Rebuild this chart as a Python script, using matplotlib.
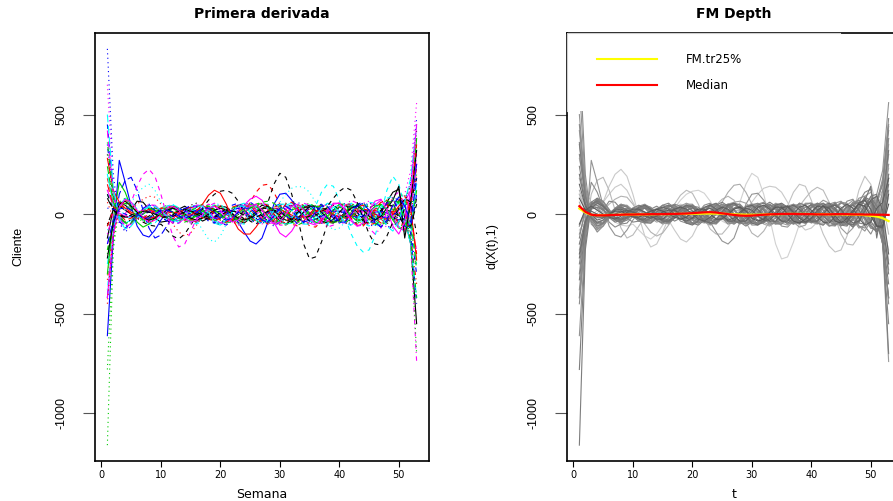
### Primera derivada de las curvas de clientes y profundidad FM
import numpy as np
import matplotlib
matplotlib.use('Agg')
import matplotlib.pyplot as plt
from matplotlib.lines import Line2D
from matplotlib.patches import Rectangle

### Datos: derivada de cada cliente en las semanas 1..53
semana = list(range(1, 54))

c00 = [-120, 30, 60, 45, 20, 65, 60, 25, -20, -40,
       -35, -5, 25, 40, 20, -10, -35, -20, 15, 40,
       35, 5, -30, -45, -20, 20, 45, 35, 0, -35,
       -50, -30, 5, 35, 45, 20, -15, -40, -45, -20,
       10, 35, 45, 25, -10, -30, 10, 60, 110, 125,
       -20, -150, -550]
c01 = [180, 60, -20, -40, -30, -10, 10, 25, 30, 20,
       5, -10, -20, -25, -15, 0, 15, 20, 10, -5,
       -20, -30, -20, 10, 60, 110, 145, 150, 110, 50,
       -10, -50, -60, -40, -10, 15, 30, 25, 10, -5,
       -15, -20, -10, 5, 15, 20, 10, -5, -20, -30,
       -10, 60, 230]
c02 = [-1160, -180, 50, 60, 25, -15, -40, -30, 0, 30,
       45, 30, 0, -30, -45, -20, 15, 40, 40, 15,
       -15, -40, -35, 0, 35, 50, 25, -10, -45, -35,
       0, 30, 45, 30, 0, -30, -45, -20, 20, 50,
       40, 0, -40, -55, -30, 10, 50, 60, 25, -35,
       -80, 0, 200]
c03 = [350, 90, -20, -60, -45, -10, 25, 45, 35, 10,
       -20, -40, -45, -20, 15, 40, 45, 20, -15, -45,
       -55, -30, 10, 45, 60, 40, 0, -40, -60, -40,
       0, 40, 60, 40, 5, -25, -45, -35, 0, 35,
       55, 45, 10, -25, -55, -60, -20, 40, 85, 70,
       0, -80, -300]
c04 = [-250, -60, 40, 80, 65, 25, -20, -50, -45, -10,
       25, 45, 35, 0, -35, -45, -20, 15, 40, 45,
       20, -15, -45, -50, -20, 20, 50, 50, 20, -20,
       -50, -45, 0, 40, 50, 25, -20, -45, -35, 0,
       35, 55, 35, -10, -45, -55, -20, 30, 70, 55,
       -20, -150, -420]
c05 = [120, 40, 5, -10, -15, -5, 5, 15, 10, 0,
       -10, -15, -5, 10, 20, 15, 0, -15, -20, -10,
       5, 20, 30, 45, 75, 90, 70, 20, -40, -95,
       -115, -85, -35, 10, 35, 40, 25, 5, -10, -15,
       -10, 0, 10, 15, 10, 0, -10, -15, -5, 20,
       60, 120, 250]
c06 = [-60, 30, 40, 20, 0, -20, -40, -55, -60, -50,
       -80, -110, -125, -100, -55, -10, 30, 70, 100, 115,
       120, 105, 65, 10, -35, -50, -20, 60, 150, 205,
       185, 100, -20, -150, -225, -215, -140, -50, 20, 50,
       45, 15, -10, -20, -15, 0, 15, 20, 10, -10,
       -30, -60, 80]
c07 = [60, -20, -30, -10, 20, 50, 75, 90, 85, 50,
       0, -50, -90, -110, -95, -55, -10, 25, 40, 35,
       20, 0, -15, -20, -10, 5, 15, 20, 15, 0,
       -15, -25, -20, -5, 10, 20, 15, 0, -15, -20,
       -10, 5, 20, 25, 10, -15, -30, -35, -15, 20,
       70, 150, 380]
c08 = [-200, -40, 30, 55, 40, 10, -15, -25, -15, 10,
       35, 45, 25, -10, -35, -35, -10, 25, 45, 35,
       0, -35, -45, -25, 10, 45, 55, 30, -10, -45,
       -55, -35, 10, 45, 55, 35, 0, -35, -45, -25,
       10, 45, 55, 30, -10, -45, -55, -10, 45, 65,
       20, -60, -250]
c09 = [-420, -90, 100, 170, 185, 120, 20, -70, -120, -105,
       -60, -15, 15, 30, 25, 10, -5, -15, -10, 5,
       15, 20, 10, -5, -15, -15, -5, 10, 20, 15,
       0, -15, -20, -10, 5, 15, 20, 10, -5, -15,
       -15, -5, 10, 20, 15, 0, -15, -20, -5, 15,
       40, 80, 180]
c10 = [200, 50, -20, -45, -30, 0, 25, 35, 20, 0,
       -25, -35, -20, 10, 35, 45, 25, -10, -45, -55,
       -35, 10, 45, 55, 30, 0, -35, -45, -20, 15,
       45, 55, 35, 0, -35, -45, -20, 10, 35, 45,
       25, -10, -35, -35, 0, 35, 45, 20, -20, -60,
       -90, -40, 150]
c11 = [-150, -60, -30, 0, 60, 140, 200, 225, 190, 100,
       -10, -110, -165, -150, -90, -20, 30, 50, 40, 15,
       -10, -25, -20, -5, 10, 20, 15, 0, -15, -20,
       -10, 5, 20, 25, 15, -5, -25, -35, -25, 0,
       25, 35, 20, -5, -30, -40, -20, 15, 45, 50,
       20, -50, -180]
c12 = [300, 80, -10, -40, -30, 0, 25, 35, 20, -10,
       -35, -45, -20, 15, 45, 55, 30, -10, -45, -50,
       -30, 10, 45, 50, 20, -20, -45, -35, 10, 45,
       55, 30, -10, -45, -50, -20, 20, 55, 45, 0,
       -45, -55, -20, 25, 55, 45, 0, -45, -50, 0,
       60, 150, 420]
c13 = [-330, -70, 45, 70, 45, 10, -20, -30, -20, 0,
       25, 35, 25, 0, -25, -35, -20, 10, 35, 45,
       25, -10, -45, -45, -10, 35, 55, 45, 0, -35,
       -45, -20, 10, 35, 35, 10, -25, -45, -35, 10,
       45, 55, 25, -20, -55, -45, 0, 55, 75, 20,
       -60, -120, -350]
c14 = [240, 60, -10, -45, -40, -20, 0, 20, 30, 20,
       0, -25, -35, -20, 5, 35, 50, 40, 10, -25,
       -45, -30, 0, 30, 50, 40, 0, -40, -50, -30,
       10, 40, 50, 30, -10, -40, -50, -20, 20, 50,
       50, 20, -20, -50, -40, 0, 50, 70, 50, 0,
       -60, -80, 120]
c15 = [-610, -120, 270, 160, 40, -60, -105, -115, -80, -30,
       10, 30, 30, 15, 0, -10, -10, 0, 10, 15,
       10, -10, -40, -90, -135, -150, -120, -40, 50, 100,
       105, 70, 20, -15, -30, -25, -10, 5, 15, 15,
       5, -10, -15, -10, 0, 10, 15, 5, -15, -30,
       -20, 40, 250]
c16 = [100, 30, -15, -25, -10, 10, 25, 30, 15, -5,
       -20, -25, -15, 0, 15, 20, 10, -5, -15, -15,
       -5, 10, 15, 10, -5, -20, -25, -15, 0, 10,
       15, 10, 0, 5, 20, 40, 110, 150, 140, 70,
       -20, -100, -160, -190, -180, -110, 0, 120, 190, 150,
       40, -60, -250]
c17 = [650, 150, -50, -80, -50, -10, 30, 50, 40, 10,
       -20, -40, -30, 0, 30, 45, 25, -10, -40, -45,
       -10, 30, 50, 40, 0, -40, -50, -20, 20, 50,
       40, 0, -40, -50, -20, 20, 50, 40, 0, -40,
       -50, -20, 20, 55, 65, 30, -25, -70, -55, 15,
       100, 220, 560]
c18 = [-50, 20, 40, 20, 0, -15, -25, -10, 10, 25,
       25, 10, -10, -25, -25, 0, 25, 35, 25, 0,
       -25, -35, -15, 20, 35, 25, -10, -35, -35, 0,
       35, 45, 25, -10, -35, -35, 0, 35, 45, 20,
       -10, -40, -45, -10, 30, 50, 30, -20, -55, -40,
       30, 60, 180]
c19 = [150, 40, 0, -30, -20, 0, 20, 25, 10, -10,
       -25, -25, 0, 25, 35, 25, 0, -25, -35, -20,
       10, 35, 45, 25, -10, -35, -35, 0, 35, 45,
       25, -10, -35, -35, 0, 35, 45, 25, -10, -35,
       -35, 0, 35, 45, 25, -20, -45, -35, 15, 70,
       90, 20, -200]
c20 = [-300, -20, 160, 110, 30, -40, -65, -50, -20, 10,
       30, 30, 10, -15, -25, -10, 15, 25, 20, 0,
       -25, -35, -20, 10, 35, 40, 20, -10, -35, -35,
       -10, 20, 35, 25, 0, -25, -35, -10, 20, 35,
       25, -10, -35, -25, 10, 40, 50, 20, -30, -70,
       -80, 50, 380]
c21 = [450, 110, -35, -70, -45, 0, 30, 40, 20, -10,
       -35, -35, -10, 25, 45, 35, 0, -35, -45, -20,
       10, 45, 55, 25, -20, -50, -40, 0, 40, 50,
       20, -20, -50, -40, 0, 40, 50, 20, -20, -45,
       -30, 10, 50, 60, 20, -40, -65, -40, 25, 70,
       50, -100, -450]
c22 = [-80, -40, -10, 20, 60, 100, 135, 150, 120, 60,
       10, -20, -30, -20, -10, -30, -80, -125, -140, -110,
       -50, 10, 40, 40, 20, 0, -10, -5, 20, 60,
       100, 130, 140, 135, 110, 60, 0, -50, -80, -70,
       -40, -10, 10, 20, 20, 10, -5, -15, -10, 10,
       40, 100, 300]
c23 = [-100, 0, 50, 45, 20, -10, -30, -30, -10, 20,
       40, 40, 10, -30, -50, -40, 0, 40, 55, 40,
       0, -40, -55, -40, 10, 50, 55, 30, -20, -55,
       -55, -20, 30, 55, 45, 10, -40, -65, -55, -10,
       45, 70, 55, 0, -70, -100, -70, 15, 90, 110,
       50, -150, -740]
c24 = [80, 20, 0, -15, -15, 0, 15, 15, 0, -15,
       -15, 0, 15, 25, 15, 0, -15, -25, -15, 10,
       25, 25, 0, -25, -25, 0, 25, 35, 15, -20,
       -35, -25, 10, 35, 35, 0, -35, -45, -25, 10,
       40, 40, 10, -35, -45, -20, 20, 50, 40, -10,
       -60, -60, 50]
c25 = [280, 120, 60, 30, 10, -5, -15, -20, -15, -5,
       5, 10, 5, -5, -5, 15, 50, 95, 120, 105,
       50, -20, -75, -100, -100, -65, -20, 15, 30, 25,
       10, -5, -15, -15, -5, 10, 20, 15, 0, -15,
       -20, -10, 10, 25, 20, 0, -20, -25, 0, 40,
       70, 30, -230]
c26 = [-180, -30, 35, 45, 20, -10, -30, -20, 10, 30,
       30, 10, -20, -40, -30, 0, 30, 40, 20, -10,
       -35, -45, -25, 5, 30, 50, 60, 65, 55, 30,
       0, -40, -55, -40, -10, 25, 45, 35, 0, -35,
       -45, -20, 25, 50, 35, -10, -45, -45, 10, 65,
       70, 0, -280]
c27 = [830, 200, -40, -90, -60, -15, 30, 50, 40, 10,
       -20, -40, -30, 0, 30, 45, 35, 0, -35, -45,
       -20, 20, 45, 45, 10, -30, -45, -30, 10, 40,
       45, 20, -20, -45, -40, 0, 40, 50, 20, -20,
       -45, -45, -10, 35, 60, 45, -10, -60, -70, -20,
       70, 160, 480]
c28 = [-380, -80, 50, 75, 45, 0, -30, -40, -20, 10,
       40, 50, 30, -10, -40, -50, -20, 20, 50, 50,
       20, -20, -50, -40, 0, 40, 50, 30, -10, -40,
       -50, -20, 20, 50, 40, 0, -40, -50, -20, 30,
       55, 45, 0, -45, -60, -25, 35, 80, 90, 40,
       -40, -150, -420]
c29 = [420, 100, -20, -60, -50, -20, 20, 45, 45, 20,
       -20, -45, -45, -20, 20, 45, 45, 20, -20, -45,
       -45, -20, 20, 45, 45, 20, -20, -45, -45, -10,
       30, 45, 30, -10, -45, -55, -25, 20, 55, 55,
       20, -25, -60, -55, -10, 45, 70, 45, -15, -70,
       -80, 20, 300]
c30 = [-220, -40, 50, 65, 40, 10, -20, -30, -20, 0,
       20, 30, 20, 0, -20, -30, -20, 0, 20, 30,
       20, 0, -20, -30, -20, 10, 30, 40, 20, -10,
       -30, -40, -20, 10, 40, 40, 10, -20, -40, -30,
       0, 30, 40, 20, -10, -30, -10, 30, 70, 140,
       -120, 60, 320]
c31 = [-60, 20, 45, 30, 0, -20, -20, 0, 20, 30,
       20, 0, -20, -30, -10, 20, 40, 30, 0, -30,
       -40, -20, 10, 40, 40, 10, -30, -50, -30, 10,
       50, 60, 30, -20, -60, -65, -35, 10, 50, 55,
       25, -20, -55, -60, -25, 25, 60, 50, 0, -50,
       -50, 60, 350]
c32 = [-780, -150, 60, 80, 40, 0, -30, -40, -20, 10,
       30, 40, 20, -10, -30, -40, -20, 10, 30, 40,
       20, -10, -30, -40, -20, 10, 30, 40, 20, -10,
       -30, -40, -20, 10, 30, 40, 20, -10, -30, -40,
       -20, 10, 40, 50, 20, -30, -55, -40, 30, 90,
       100, -120, -700]
c33 = [30, 25, 15, 0, -10, -10, 0, 10, 20, 10,
       0, -10, -20, -10, 10, 20, 20, 0, -20, -20,
       0, 20, 30, 10, -10, -30, -20, 10, 30, 20,
       -10, -30, -30, 0, 30, 40, 10, -20, -40, -20,
       20, 40, 30, -10, -40, -40, 10, 55, 70, 25,
       -60, -70, 100]
c34 = [500, 130, -25, -75, -60, -20, 20, 40, 40, 20,
       -10, -30, -40, -20, 10, 40, 40, 10, -30, -50,
       -30, 10, 40, 40, 10, -30, -50, -30, 20, 50,
       50, 20, -20, -50, -50, -10, 30, 55, 45, 0,
       -45, -55, -30, 25, 60, 55, 0, -60, -85, -35,
       60, 180, 440]
c35 = [-420, -100, 35, 75, 60, 20, -20, -40, -30, 0,
       30, 40, 20, -20, -40, -30, 0, 30, 40, 20,
       -20, -40, -30, 10, 40, 50, 20, -20, -50, -40,
       0, 40, 50, 20, -20, -50, -40, 10, 50, 55,
       20, -35, -60, -45, 15, 65, 75, 20, -60, -100,
       -40, 120, 450]
c36 = [100, 20, -10, -15, -5, 5, 10, 10, 0, -10,
       -15, -10, 0, 10, 15, 10, -5, -15, -15, -5,
       10, 15, 10, -5, -15, -15, 0, 15, 20, 10,
       -10, -25, -30, -20, -10, -5, 10, 40, 80, 115,
       135, 120, 60, -20, -100, -150, -155, -110, -40, 30,
       80, 60, -100]
c37 = [-450, -110, 25, 70, 50, 15, -20, -40, -30, 0,
       30, 40, 30, 0, -30, -40, -20, 10, 40, 40,
       10, -30, -50, -30, 10, 40, 50, 20, -20, -50,
       -40, 0, 40, 50, 20, -20, -50, -40, 0, 40,
       50, 20, -30, -55, -40, 15, 60, 70, 20, -50,
       -90, -20, 200]
c38 = [360, 90, -10, -50, -45, -10, 20, 30, 20, 0,
       -20, -30, -20, 0, 20, 30, 20, -10, -30, -30,
       0, 30, 40, 20, -20, -40, -30, 10, 40, 40,
       10, -30, -40, -20, 20, 40, 30, -10, -40, -40,
       0, 40, 50, 20, -30, -55, -30, 35, 80, 55,
       -30, -130, -420]
c39 = [-150, -30, 25, 35, 20, 0, -20, -20, 0, 20,
       20, 10, -10, -20, -10, 10, 30, 30, 10, -20,
       -30, -20, 10, 30, 30, 0, -30, -40, -10, 30,
       40, 20, -20, -40, -30, 10, 40, 40, 0, -40,
       -40, 0, 40, 55, 20, -40, -65, -30, 45, 85,
       40, -40, 180]

curvas = [c00, c01, c02, c03, c04, c05, c06, c07, c08, c09,
          c10, c11, c12, c13, c14, c15, c16, c17, c18, c19,
          c20, c21, c22, c23, c24, c25, c26, c27, c28, c29,
          c30, c31, c32, c33, c34, c35, c36, c37, c38, c39]

# profundidad FM de cada curva (mismo orden)
profundidad = [0.55, 0.30, 0.60, 0.60, 0.55, 0.25, 0.05, 0.25, 0.70, 0.20,
               0.65, 0.10, 0.55, 0.60, 0.55, 0.45, 0.15, 0.45, 0.80, 0.75,
               0.50, 0.50, 0.10, 0.40, 0.85, 0.20, 0.35, 0.50, 0.45, 0.40,
               0.65, 0.45, 0.60, 0.80, 0.45, 0.50, 0.20, 0.50, 0.55, 0.60]

mediana = [40, 12, -3, -6, -6, -5, -4, -3, -2, -2,
           -1, -1, 0, 0, 0, 1, 1, 2, 3, 5,
           7, 9, 10, 8, 4, 0, -4, -7, -8, -7,
           -5, -3, -1, 0, 1, 1, 1, 0, 0, 0,
           -1, -1, -1, 0, 0, 0, -1, -1, -2, -2,
           -3, -3, -4]
media_rec = [28, 8, -4, -5, -5, -4, -4, -3, -3, -2,
             -2, -1, -1, 0, 0, 0, 1, 1, 1, 2,
             2, 3, 3, 3, 2, 1, -1, -2, -3, -3,
             -3, -2, -1, 0, 0, 1, 1, 1, 1, 0,
             0, 0, -1, -1, -1, -2, -2, -3, -5, -8,
             -12, -20, -35]

yticks = [-1000, -500, 0, 500]
xticks = [0, 10, 20, 30, 40, 50]

### Estilos tipo matplot de R
paleta = ['#000000', '#FF0000', '#00CD00', '#0000FF', '#00FFFF', '#FF00FF']
tipos = ['-', (0, (4, 4)), (0, (1, 3)), (0, (1, 3, 4, 3)), (0, (7, 3))]
fuente_h = ['DejaVu Sans']
fuente_v = ['Liberation Sans Narrow', 'Liberation Sans', 'DejaVu Sans']

W, H = 893, 501
fig = plt.figure(figsize=(W / 100, H / 100), dpi=100)
ax1 = fig.add_axes([95 / W, 40 / H, 334 / W, 428 / H])
ax2 = fig.add_axes([567 / W, 40 / H, 334 / W, 428 / H])

### Panel izquierdo: todas las derivadas
for k, y in enumerate(curvas):
    ax1.plot(semana, y, color=paleta[k % 6], linestyle=tipos[k % 5], lw=0.8)

### Panel derecho: curvas en gris segun profundidad
orden = np.argsort(profundidad)
for k in orden:
    g = 0.85 - 0.6 * profundidad[k]
    ax2.plot(semana, curvas[k], color=(g, g, g), lw=0.8)
ax2.plot(semana, media_rec, color='#FFFF00', lw=1.6)
ax2.plot(semana, mediana, color='#FF0000', lw=1.6)

for ax in (ax1, ax2):
    ax.margins(x=0.04, y=0.04)
    ax.set_xticks(xticks)
    ax.set_yticks(yticks)
    ax.set_xticklabels([str(v) for v in xticks], family=fuente_h, fontsize=7)
    ax.set_yticklabels([str(v) for v in yticks], family=fuente_v, fontsize=9,
                       rotation=90, va='center')
    ax.tick_params(axis='x', length=4.3, width=0.8, pad=2.5)
    ax.tick_params(axis='y', length=8.6, width=0.8, pad=11, colors='#555555',
                   labelcolor='black')
    for s in ax.spines.values():
        s.set_linewidth(1.2)

# la caja de la leyenda tapa la esquina superior izquierda
ancho, alto = 273 / 334, 78 / 428
ax2.add_patch(Rectangle((0, 1 - alto), ancho, alto, transform=ax2.transAxes,
                        facecolor='white', edgecolor='none', zorder=4, clip_on=False))
ax2.plot([0, 0, ancho], [1 - alto, 1, 1], transform=ax2.transAxes,
         color='#cfcfcf', lw=0.8, zorder=4.5, clip_on=False)
manijas = [Line2D([], [], color='#FFFF00', lw=1.5), Line2D([], [], color='#FF0000', lw=1.5)]
ley = ax2.legend(manijas, ['FM.tr25%', 'Median'], loc='upper left',
                 bbox_to_anchor=(30 / 334, (461 - 53) / 428), frameon=False,
                 borderpad=0, borderaxespad=0, handlelength=5.1, handletextpad=2.4,
                 labelspacing=1.07, prop={'family': fuente_h, 'size': 8.5})
ley.set_zorder(5)

### Titulos y etiquetas
fig.text(262 / W, 1 - 14 / H, 'Primera derivada', ha='center', va='center',
         family=fuente_h, fontsize=10, fontweight='bold')
fig.text(734 / W, 1 - 14 / H, 'FM Depth', ha='center', va='center',
         family=fuente_h, fontsize=10, fontweight='bold')
fig.text(262 / W, 1 - 494 / H, 'Semana', ha='center', va='center',
         family=fuente_h, fontsize=9)
fig.text(734 / W, 1 - 494 / H, 't', ha='center', va='center',
         family=fuente_h, fontsize=9)
fig.text(18 / W, 1 - 246 / H, 'Cliente', ha='center', va='center', rotation=90,
         family=fuente_v, fontsize=9)
fig.text(492 / W, 1 - 246 / H, 'd(X(t),1)', ha='center', va='center', rotation=90,
         family=fuente_v, fontsize=9)

fig.savefig('out.png', dpi=100)
